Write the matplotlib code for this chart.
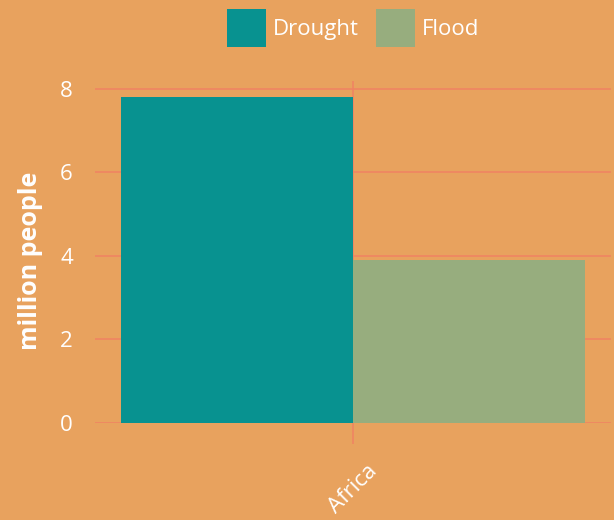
import matplotlib.pyplot as plt
import numpy as np

# data
regions = ["Africa"]
drought = [7.8]
flood = [3.9]
series_names = ["Drought", "Flood"]

BG = "#E8A25E"
GRID = "#F08462"
COLORS = ["#089290", "#97AD7E"]
TEXT = "white"

plt.rcParams["font.family"] = ["Open Sans", "DejaVu Sans"]

fig = plt.figure(figsize=(6.14, 5.2), dpi=100, facecolor=BG)
ax = fig.add_axes([95 / 614, 97 / 520, 516 / 614, 342.4 / 520])
ax.set_facecolor(BG)

x = np.arange(len(regions))
width = 0.45
ax.bar(x - width / 2, drought, width, color=COLORS[0], label=series_names[0], zorder=2)
ax.bar(x + width / 2, flood, width, color=COLORS[1], label=series_names[1], zorder=2)

ax.set_xlim(-0.5, len(regions) - 0.5)
ax.set_ylim(0, 8.2)
ax.set_yticks([0, 2, 4, 6, 8])
ax.set_xticks(x)
ax.set_xticklabels(regions, rotation=45, ha="center")

for s in ax.spines.values():
    s.set_visible(False)
ax.grid(True, color=GRID, linewidth=1.2, zorder=0)
ax.tick_params(axis="y", length=0, pad=16, labelsize=16, labelcolor=TEXT)
ax.tick_params(axis="x", length=15, width=1.2, color=GRID, pad=12,
               labelsize=16, labelcolor=TEXT)

ax.set_ylabel("million people", fontsize=18, fontweight="bold", color=TEXT)
ax.yaxis.set_label_coords(-0.101, 0.475)

fig.legend(loc="center", bbox_to_anchor=(353 / 614, 1 - 28 / 520), ncol=2,
           frameon=False, fontsize=16, labelcolor=TEXT,
           handlelength=1.75, handleheight=2.2, handletextpad=0.3,
           columnspacing=0.8, borderpad=0)

fig.savefig("out.png", dpi=100, facecolor=BG)
